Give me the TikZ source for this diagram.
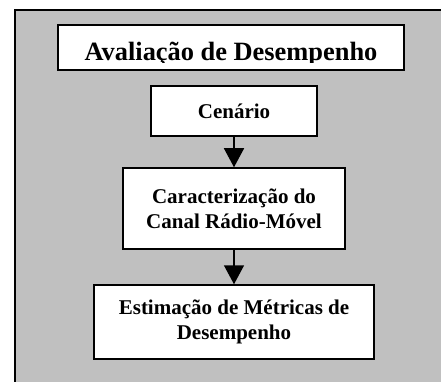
\documentclass[tikz,border=0pt]{standalone}
\usepackage{fontspec}
\setmainfont{Liberation Serif}
\usetikzlibrary{arrows.meta}
\begin{document}
\begin{tikzpicture}[x=1pt,y=-1pt,
  stepbox/.style={draw=black,line width=1.5pt,fill=white,align=center,inner sep=0pt,
    font=\fontsize{21}{25}\selectfont\bfseries},
  arr/.style={line width=1.5pt,-{Triangle[width=20pt,length=19pt]}}]
\useasboundingbox (0,0) rectangle (441,382);
\begin{scope}
\clip (0,0) rectangle (441,382);
\draw[fill={rgb,255:red,192;green,192;blue,192},line width=1.5pt] (15,10) rectangle (460,400);
\end{scope}
\node[stepbox,minimum width=346pt,minimum height=45pt] (tit) at (231,47.5) {};
\begin{scope}
\clip (58,25) rectangle (404,62.5);
\node[anchor=base,inner sep=0pt,font=\fontsize{26.4}{30}\selectfont\bfseries] (tittext) at (231,61) {Avaliação de Desempenho};
\end{scope}
\node[stepbox,minimum width=166pt,minimum height=50pt] (cen) at (234,111) {Cenário};
\node[stepbox,minimum width=222pt,minimum height=81pt] (car) at (234,208.5) {Caracterização do\\Canal Rádio-Móvel};
\node[stepbox,minimum width=280pt,minimum height=74pt] (est) at (234,322) {Estimação de Métricas de\\Desempenho};
\draw[arr] (cen.south) -- (car.north);
\draw[arr] (car.south) -- (est.north);
\end{tikzpicture}
\end{document}
